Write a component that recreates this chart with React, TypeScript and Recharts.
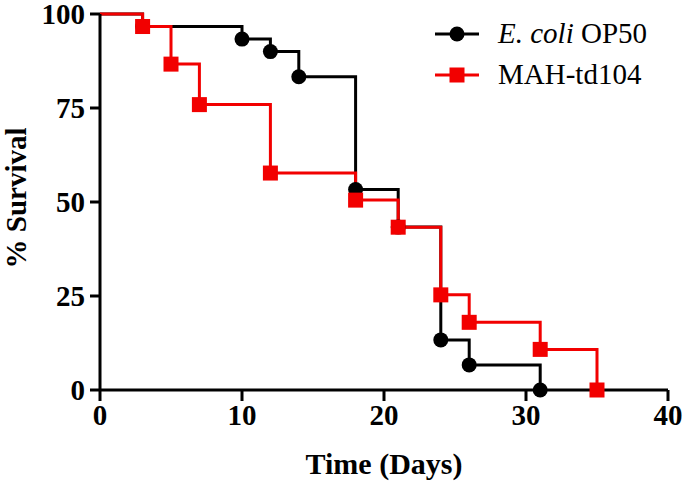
import * as React from 'react';
import { LineChart, Line, XAxis, YAxis } from 'recharts';

// Kaplan-Meier steps
const ecoliDays = [0, 3, 10, 12, 14, 18, 21, 24, 26, 31];
const ecoliSurvival = [100, 96.67, 93.33, 90, 83.33, 53.33, 43.33, 13.33, 6.67, 0];

const mahDays = [0, 3, 5, 7, 12, 18, 21, 24, 26, 31, 35];
const mahSurvival = [100, 96.67, 86.67, 75.9, 57.7, 50.5, 43.3, 25.3, 18.0, 10.8, 0];

const xTicks = [0, 10, 20, 30, 40];
const yTicks = [0, 25, 50, 75, 100];

const RED = '#f20000';
const FONT = '"Liberation Serif", "Times New Roman", serif';
const boldText = { fontFamily: FONT, fontWeight: 700, fontSize: 29, fill: '#000' };

const ecoliData = ecoliDays.map((d, i) => ({ day: d, survival: ecoliSurvival[i] }));
const mahData = mahDays.map((d, i) => ({ day: d, survival: mahSurvival[i] }));

const CircleDot = (props: any) => {
  const { cx, cy, index } = props;
  if (index === 0) return <g key={`c-${index}`} />;
  return <circle key={`c-${index}`} cx={cx} cy={cy} r={7.5} fill="#000" />;
};

const SquareDot = (props: any) => {
  const { cx, cy, index } = props;
  if (index === 0) return <g key={`s-${index}`} />;
  return <rect key={`s-${index}`} x={cx - 7.5} y={cy - 7.5} width={15} height={15} fill={RED} />;
};

const XTick = (props: any) => {
  const { x, y, payload } = props;
  return (
    <text x={x} y={y} dy={22} textAnchor="middle" style={boldText}>
      {payload.value}
    </text>
  );
};

const YTick = (props: any) => {
  const { x, y, payload } = props;
  return (
    <text x={x} y={y} dy={10} textAnchor="end" style={boldText}>
      {payload.value}
    </text>
  );
};

// legend drawn as an overlay so it doesn't shrink the plot area
const LegendBox = () => (
  <div style={{ position: 'absolute', left: 435, top: 13, fontFamily: FONT, fontSize: 29, color: '#000', lineHeight: '41px' }}>
    <div style={{ display: 'flex', alignItems: 'center', height: 41 }}>
      <svg width={44} height={20} style={{ marginRight: 19 }}>
        <line x1={0} y1={10} x2={44} y2={10} stroke="#000" strokeWidth={3} />
        <circle cx={22} cy={10} r={7.5} fill="#000" />
      </svg>
      <span><i>E. coli</i> OP50</span>
    </div>
    <div style={{ display: 'flex', alignItems: 'center', height: 41 }}>
      <svg width={44} height={20} style={{ marginRight: 19 }}>
        <line x1={0} y1={10} x2={44} y2={10} stroke={RED} strokeWidth={3} />
        <rect x={14.5} y={2.5} width={15} height={15} fill={RED} />
      </svg>
      <span>MAH-td104</span>
    </div>
  </div>
);

export default function App() {
  return (
    <div style={{ position: 'absolute', left: 0, top: 0, width: 683, height: 483, background: '#fff' }}>
      <LineChart width={683} height={483} margin={{ top: 14, right: 15, bottom: 3, left: 0 }} style={{ fontFamily: FONT }}>
        <XAxis
          type="number"
          dataKey="day"
          domain={[0, 40]}
          ticks={xTicks}
          allowDuplicatedCategory={false}
          height={90}
          tickSize={11}
          tickMargin={2}
          axisLine={{ stroke: '#000', strokeWidth: 3 }}
          tickLine={{ stroke: '#000', strokeWidth: 3 }}
          tick={<XTick />}
          label={{
            value: 'Time (Days)',
            position: 'insideBottom',
            offset: 6,
            style: { ...boldText, fontSize: 30 },
          }}
        />
        <YAxis
          type="number"
          domain={[0, 100]}
          ticks={yTicks}
          width={100}
          tickSize={10}
          tickMargin={5}
          axisLine={{ stroke: '#000', strokeWidth: 3 }}
          tickLine={{ stroke: '#000', strokeWidth: 3 }}
          tick={<YTick />}
          label={{
            content: (p: any) => {
              const vb = p.viewBox;
              const x = vb.x + 16;
              const y = vb.y + vb.height / 2 - 4;
              return (
                <text
                  x={x}
                  y={y}
                  transform={`rotate(-90, ${x}, ${y})`}
                  textAnchor="middle"
                  dominantBaseline="central"
                  style={boldText}
                >
                  % Survival
                </text>
              );
            },
          }}
        />
        <Line
          data={ecoliData}
          dataKey="survival"
          type="stepAfter"
          stroke="#000"
          strokeWidth={3}
          dot={CircleDot}
          activeDot={false}
          isAnimationActive={false}
          name="E. coli OP50"
        />
        <Line
          data={mahData}
          dataKey="survival"
          type="stepAfter"
          stroke={RED}
          strokeWidth={3}
          dot={SquareDot}
          activeDot={false}
          isAnimationActive={false}
          name="MAH-td104"
        />
      </LineChart>
      <LegendBox />
    </div>
  );
}
